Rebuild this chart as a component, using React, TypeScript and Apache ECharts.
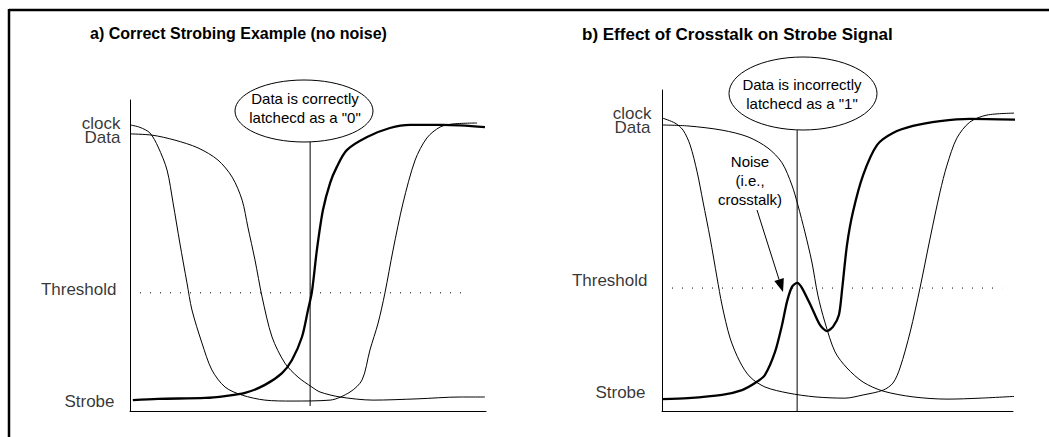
import React, { useEffect, useRef } from "react";
import * as echarts from "echarts";

const FONT = '"Liberation Sans", Arial, Helvetica, sans-serif';

// ---- Panel a) values (time 0-100 along axis, level 0-100 up the axis) ----
const clockA: [number, number][] = [
  [0, 92.0], [2.8, 91.2], [5.6, 89.4], [7.9, 84.9], [10.4, 77.5], [12.1, 66.9],
  [14.0, 54.0], [16.0, 41.2], [17.4, 32.5], [20.2, 21.9], [23.0, 13.2], [26.7, 7.7],
  [31.5, 5.1], [37.9, 3.5], [45.5, 3.2], [56.2, 3.5], [61.8, 6.1], [65.2, 10.0],
  [67.4, 19.6], [69.7, 28.3], [71.6, 37.9], [73.9, 51.8], [76.7, 66.9], [80.1, 80.7],
  [83.4, 87.8], [87.1, 91.3], [90.7, 92.3], [97.5, 92.6],
];
const dataA: [number, number][] = [
  [0, 89.1], [6.2, 88.7], [12.6, 87.1], [19.1, 84.6], [24.7, 80.7], [28.7, 75.2],
  [31.5, 67.8], [33.1, 59.2], [35.1, 48.6], [37.1, 36.7], [39.9, 23.8], [43.5, 15.4],
  [47.2, 10.9], [51.1, 7.7], [53.4, 6.1], [59.0, 4.5], [68.3, 3.5], [80.6, 3.9],
  [92.7, 4.5], [99.7, 4.5],
];
const strobeA: [number, number][] = [
  [0.8, 3.5], [7.9, 3.9], [21.1, 4.2], [26.7, 4.8], [32.3, 5.8], [37.9, 8.4],
  [42.7, 12.2], [45.5, 16.4], [48.3, 23.8], [50.0, 32.5], [51.1, 38.3], [52.5, 51.8],
  [54.2, 64.6], [56.2, 73.3], [58.1, 78.5], [60.9, 83.9], [66.6, 88.1], [73.0, 91.0],
  [78.7, 92.0], [87.9, 92.0], [99.7, 91.3],
];
const thresholdA: [number, number][] = [[0, 38.0], [95.5, 38.0]];
const latchA: [number, number][] = [[50.6, 1.6], [50.6, 86.5]];
const labelLevelsA = [92.6, 88.1, 39.2, 3.2];

// ---- Panel b) values ----
const clockB: [number, number][] = [
  [0, 91.3], [3.7, 89.7], [6.0, 87.5], [8.0, 82.9], [10.0, 74.5], [11.7, 65.1],
  [13.7, 53.9], [15.7, 41.4], [17.1, 33.0], [19.4, 22.7], [22.2, 15.3], [25.1, 10.6],
  [29.3, 7.5], [35.9, 5.6], [43.6, 4.4], [52.1, 4.0], [57.3, 5.0], [63.0, 6.5],
  [65.8, 8.7], [67.8, 13.4], [70.7, 24.6], [73.5, 38.3], [76.4, 53.9], [79.2, 68.2],
  [81.2, 76.6], [84.0, 85.0], [87.7, 90.0], [92.6, 92.2], [100.6, 92.8],
];
const dataB: [number, number][] = [
  [0, 89.1], [7.4, 88.8], [17.1, 87.5], [24.5, 85.4], [30.2, 81.9], [34.2, 77.3],
  [37.0, 70.4], [38.7, 64.2], [40.7, 55.8], [42.7, 46.4], [44.4, 36.1], [46.4, 27.7],
  [49.3, 18.4], [52.7, 13.4], [57.3, 9.0], [63.0, 6.2], [71.5, 4.4], [81.2, 3.7],
  [90.6, 4.0], [102.8, 4.7],
];
const strobeB: [number, number][] = [
  [0, 3.7], [7.4, 4.0], [17.1, 5.0], [22.8, 6.5], [26.5, 8.7], [29.3, 11.2],
  [32.2, 18.4], [34.2, 26.8], [35.6, 34.0], [37.0, 38.6], [38.5, 39.9], [39.9, 38.3],
  [42.7, 32.1], [45.0, 26.8], [47.0, 24.9], [48.7, 26.2], [50.4, 29.9], [51.3, 37.7],
  [52.7, 51.7], [54.4, 62.0], [57.3, 73.5], [61.3, 82.9], [65.8, 86.6], [71.5, 88.8],
  [79.2, 90.3], [87.7, 91.0], [102.8, 90.7],
];
const thresholdB: [number, number][] = [[0, 38.3], [96.9, 38.3]];
const latchB: [number, number][] = [[38.5, 0], [38.5, 87.5]];
const labelLevelsB = [92.8, 88.2, 40.8, 5.9];

const labelNames = ["clock", "Data", "Threshold", "Strobe"];
const labelGapA = [9, 9, 13, 15];
const labelGapB = [10, 11, 14, 16];

const titleA = "a) Correct Strobing Example (no noise)";
const titleB = "b) Effect of Crosstalk on Strobe Signal";
const bubbleA = 'Data is correctly\nlatchecd as a "0"';
const bubbleB = 'Data is incorrectly\nlatchecd as a "1"';
const noiseText = "Noise\n(i.e.,\ncrosstalk)";

function curve(data: [number, number][], idx: number, width: number, smooth = 0.3) {
  return {
    type: "line",
    xAxisIndex: idx,
    yAxisIndex: idx,
    data,
    symbol: "none",
    showSymbol: false,
    smooth,
    clip: false,
    silent: true,
    lineStyle: { color: "#000", width },
  };
}

function straight(data: [number, number][], idx: number, style: any) {
  return {
    type: "line",
    xAxisIndex: idx,
    yAxisIndex: idx,
    data,
    symbol: "none",
    showSymbol: false,
    clip: false,
    silent: true,
    lineStyle: style,
  };
}

function labels(levels: number[], gaps: number[], idx: number) {
  return {
    type: "scatter",
    xAxisIndex: idx,
    yAxisIndex: idx,
    symbolSize: 1,
    silent: true,
    clip: false,
    itemStyle: { color: "rgba(0,0,0,0)" },
    data: levels.map((v, i) => ({
      name: labelNames[i],
      value: [0, v],
      label: { distance: gaps[i] },
    })),
    label: {
      show: true,
      position: "left",
      formatter: (p: any) => p.name,
      color: "#000",
      fontFamily: FONT,
      fontSize: 17,
      lineHeight: 14,
    },
  };
}

const axisCommon = {
  type: "value",
  min: 0,
  max: 100,
  axisLine: { show: true, onZero: false, lineStyle: { color: "#000", width: 1 } },
  axisTick: { show: false },
  axisLabel: { show: false },
  splitLine: { show: false },
};

export default function App() {
  const ref = useRef<HTMLDivElement>(null);
  useEffect(() => {
    if (!ref.current) return;
    const chart = echarts.init(ref.current, undefined, { renderer: "svg" });
    // arrow geometry (annotation)
    const tail = [757, 210];
    const tip = [783, 292];
    const dx = tip[0] - tail[0];
    const dy = tip[1] - tail[1];
    const len = Math.hypot(dx, dy);
    const ux = dx / len;
    const uy = dy / len;
    const headLen = 13;
    const headHalf = 5;
    const bx = tip[0] - ux * headLen;
    const by = tip[1] - uy * headLen;
    chart.setOption({
      animation: false,
      backgroundColor: "#fff",
      grid: [
        { left: 130, top: 100, width: 356, height: 311 },
        { left: 662, top: 90, width: 351, height: 321 },
      ],
      xAxis: [
        { ...axisCommon, gridIndex: 0 },
        { ...axisCommon, gridIndex: 1 },
      ],
      yAxis: [
        { ...axisCommon, gridIndex: 0 },
        { ...axisCommon, gridIndex: 1 },
      ],
      series: [
        straight(thresholdA, 0, { color: "#000", width: 1, type: [1, 9] }),
        straight(thresholdB, 1, { color: "#000", width: 1, type: [1, 9] }),
        straight(latchA, 0, { color: "#000", width: 1 }),
        straight(latchB, 1, { color: "#000", width: 1 }),
        curve(clockA, 0, 1),
        curve(dataA, 0, 1),
        curve(strobeA, 0, 2.3),
        curve(clockB, 1, 1),
        curve(dataB, 1, 1),
        curve(strobeB, 1, 2.3, 0.25),
        labels(labelLevelsA, labelGapA, 0),
        labels(labelLevelsB, labelGapB, 1),
      ],
      graphic: [
        { type: "line", shape: { x1: 9, y1: 10, x2: 1049, y2: 10 }, style: { stroke: "#000", lineWidth: 2.5 }, silent: true },
        { type: "line", shape: { x1: 9, y1: 9, x2: 9, y2: 437 }, style: { stroke: "#000", lineWidth: 2.5 }, silent: true },
        {
          type: "text", x: 90, y: 33, silent: true,
          style: { text: titleA, font: `bold 16px ${FONT}`, fill: "#000", textVerticalAlign: "middle" },
        },
        {
          type: "text", x: 582, y: 34, silent: true,
          style: { text: titleB, font: `bold 17px ${FONT}`, fill: "#000", textVerticalAlign: "middle" },
        },
        {
          type: "ellipse", shape: { cx: 304, cy: 111, rx: 69, ry: 31 }, silent: true,
          style: { fill: "none", stroke: "#000", lineWidth: 1 },
        },
        {
          type: "text", x: 305, y: 108, silent: true,
          style: { text: bubbleA, font: `15px ${FONT}`, lineHeight: 19, fill: "#000", textAlign: "center", textVerticalAlign: "middle" },
        },
        {
          type: "ellipse", shape: { cx: 803, cy: 93.5, rx: 74, ry: 36.5 }, silent: true,
          style: { fill: "none", stroke: "#000", lineWidth: 1 },
        },
        {
          type: "text", x: 802, y: 94, silent: true,
          style: { text: bubbleB, font: `15px ${FONT}`, lineHeight: 19, fill: "#000", textAlign: "center", textVerticalAlign: "middle" },
        },
        {
          type: "text", x: 750, y: 180, silent: true,
          style: { text: noiseText, font: `15px ${FONT}`, lineHeight: 19, fill: "#000", textAlign: "center", textVerticalAlign: "middle" },
        },
        {
          type: "line", silent: true,
          shape: { x1: tail[0], y1: tail[1], x2: bx, y2: by },
          style: { stroke: "#000", lineWidth: 1 },
        },
        {
          type: "polygon", silent: true,
          shape: {
            points: [
              [tip[0], tip[1]],
              [bx - uy * headHalf, by + ux * headHalf],
              [bx + uy * headHalf, by - ux * headHalf],
            ],
          },
          style: { fill: "#000" },
        },
      ],
    });
    return () => chart.dispose();
  }, []);
  return (
    <div
      ref={ref}
      style={{ position: "absolute", left: 0, top: 0, width: 1049, height: 437, background: "#fff" }}
    />
  );
}
